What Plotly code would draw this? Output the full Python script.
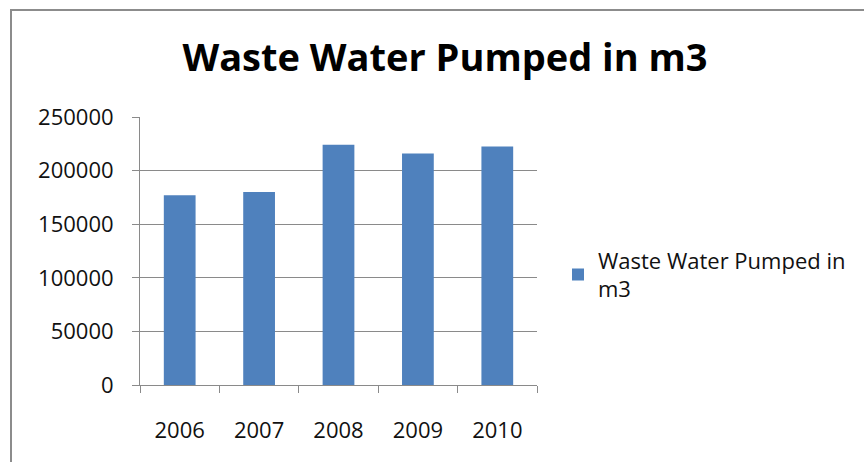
import plotly.graph_objects as go

years = ["2006", "2007", "2008", "2009", "2010"]
pumped = [177000, 180000, 224000, 216000, 222500]
series_name = "Waste Water Pumped in<br>m3"
title_text = "Waste Water Pumped in m3"
y_ticks = [0, 50000, 100000, 150000, 200000, 250000]

W, H = 864, 462
L, R, T, B = 140, 327, 117, 77
pw = W - L - R
ph = H - T - B

fig = go.Figure()
fig.add_trace(go.Bar(x=years, y=pumped, name=series_name,
                     marker=dict(color="#4F81BD", line=dict(width=0)),
                     showlegend=True))

grid = "#8a8a8a"
txt = "#111111"
fig.update_layout(
    width=W, height=H,
    margin=dict(l=L, r=R, t=T, b=B, pad=0),
    paper_bgcolor="white", plot_bgcolor="white",
    bargap=0.6,
    font=dict(family="Open Sans", color=txt, size=22),
    title=dict(text=title_text, x=445 / W, xanchor="center", xref="container",
               y=1 - 58 / H, yanchor="middle", yref="container",
               font=dict(family="Open Sans", size=38, color="black", weight="bold")),
    showlegend=True,
    legend=dict(x=(558 - L) / pw, xanchor="left", y=(385 - 275) / ph, yanchor="middle",
                font=dict(size=22, color=txt), bgcolor="rgba(0,0,0,0)",
                itemwidth=30),
    xaxis=dict(type="category", showline=True, linecolor=grid, linewidth=1,
               ticks="outside", ticklen=7, tickcolor=grid, tickson="boundaries",
               ticklabelstandoff=26, showgrid=False, zeroline=False,
               tickfont=dict(size=22, color=txt)),
    yaxis=dict(range=[0, 250000], tickvals=y_ticks, ticktext=[str(v) for v in y_ticks],
               showline=True, linecolor=grid, linewidth=1, ticks="outside", ticklen=7,
               tickcolor=grid, showgrid=True, gridcolor=grid, gridwidth=1,
               zeroline=False, ticklabelstandoff=14,
               tickfont=dict(size=22, color=txt)),
    shapes=[dict(type="rect", xref="paper", yref="paper",
                 x0=(11 - L) / pw, x1=(875 - L) / pw,
                 y0=(385 - 475) / ph, y1=(385 - 10) / ph,
                 line=dict(color="#8c8c8c", width=2), fillcolor="rgba(0,0,0,0)",
                 layer="below")],
)

fig.write_html("out.html")
